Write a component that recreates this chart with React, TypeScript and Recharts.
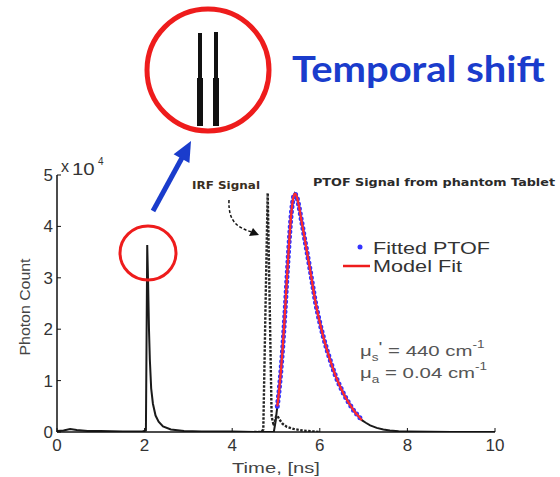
import React from 'react';
import { ComposedChart, Line, XAxis, YAxis } from 'recharts';

// values in units of 10^4 photon counts, time in ns
const xTicks = [0, 2, 4, 6, 8, 10];
const yTicks = [0, 1, 2, 3, 4, 5];

const measuredSignal: [number, number][] = [
  [0, 0.02], [0.15, 0.03], [0.3, 0.06], [0.45, 0.04], [0.7, 0.02], [1.0, 0.02], [1.5, 0.01],
  [1.95, 0.01], [2.03, 0.03], [2.06, 3.64], [2.08, 2.9], [2.1, 2.0], [2.12, 1.4], [2.15, 0.85],
  [2.19, 0.55], [2.25, 0.32], [2.32, 0.2], [2.42, 0.11], [2.6, 0.05], [2.9, 0.02], [3.3, 0.01],
  [4.0, 0.01], [4.5, 0.0], [4.95, 0.0], [4.99, 0.2], [5.03, 0.5], [5.07, 0.8], [5.11, 1.17],
  [5.15, 1.6], [5.19, 2.12], [5.23, 2.7], [5.27, 3.28], [5.31, 3.82], [5.35, 4.26], [5.39, 4.54],
  [5.43, 4.64], [5.47, 4.59], [5.52, 4.41], [5.58, 4.12], [5.64, 3.84], [5.7, 3.54], [5.76, 3.25],
  [5.82, 2.94], [5.88, 2.63], [5.94, 2.36], [6.0, 2.13], [6.09, 1.82], [6.18, 1.55], [6.27, 1.31],
  [6.36, 1.09], [6.45, 0.91], [6.54, 0.75], [6.63, 0.61], [6.72, 0.49], [6.81, 0.38], [6.9, 0.29],
  [6.96, 0.23], [7.05, 0.18], [7.15, 0.13], [7.3, 0.08], [7.45, 0.05], [7.6, 0.03], [7.8, 0.015],
  [8.0, 0.01], [9.0, 0.0], [10.0, 0.0],
];

const irfSignal: [number, number][] = [
  [4.5, 0.0], [4.66, 0.0], [4.71, 0.05], [4.76, 2.4], [4.81, 4.65], [4.86, 2.3], [4.9, 0.3],
  [4.95, 0.12], [5.0, 0.3], [5.03, 0.32], [5.08, 0.24], [5.15, 0.16], [5.25, 0.1], [5.4, 0.06],
  [5.6, 0.03], [5.8, 0.015], [6.0, 0.0],
];

const fittedPtof: [number, number][] = [
  [5.03, 0.5], [5.05, 0.64], [5.07, 0.8], [5.09, 0.98], [5.11, 1.17], [5.13, 1.38], [5.15, 1.6],
  [5.17, 1.85], [5.19, 2.12], [5.21, 2.4], [5.23, 2.7], [5.25, 3.0], [5.27, 3.28], [5.29, 3.56],
  [5.31, 3.82], [5.33, 4.06], [5.35, 4.26], [5.37, 4.42], [5.39, 4.54], [5.41, 4.61], [5.43, 4.64],
  [5.46, 4.61], [5.49, 4.53], [5.52, 4.41], [5.55, 4.27], [5.58, 4.12], [5.61, 3.98], [5.64, 3.83],
  [5.67, 3.68], [5.7, 3.54], [5.73, 3.39], [5.76, 3.25], [5.79, 3.1], [5.82, 2.94], [5.85, 2.79],
  [5.88, 2.63], [5.91, 2.48], [5.94, 2.36], [5.97, 2.24], [6.0, 2.13], [6.03, 2.02], [6.06, 1.92],
  [6.09, 1.82], [6.12, 1.73], [6.15, 1.64], [6.18, 1.55], [6.21, 1.47], [6.24, 1.39], [6.27, 1.31],
  [6.3, 1.23], [6.33, 1.16], [6.36, 1.09], [6.39, 1.03], [6.42, 0.97], [6.45, 0.91], [6.48, 0.86],
  [6.51, 0.8], [6.54, 0.75], [6.57, 0.7], [6.6, 0.66], [6.63, 0.61], [6.66, 0.57], [6.69, 0.53],
  [6.72, 0.49], [6.75, 0.45], [6.78, 0.41], [6.81, 0.38], [6.84, 0.35], [6.87, 0.32], [6.9, 0.29],
  [6.93, 0.26], [6.96, 0.23],
];

const modelFit: [number, number][] = [
  [5.03, 0.5], [5.07, 0.8], [5.11, 1.17], [5.15, 1.6], [5.19, 2.12], [5.23, 2.7], [5.27, 3.28],
  [5.31, 3.82], [5.35, 4.26], [5.39, 4.54], [5.43, 4.64], [5.47, 4.59], [5.52, 4.41], [5.58, 4.12],
  [5.64, 3.84], [5.7, 3.54], [5.76, 3.25], [5.82, 2.94], [5.88, 2.63], [5.94, 2.36], [6.0, 2.13],
  [6.09, 1.82], [6.18, 1.55], [6.27, 1.31], [6.36, 1.09], [6.45, 0.91], [6.54, 0.75], [6.63, 0.61],
  [6.72, 0.49], [6.81, 0.38], [6.9, 0.29], [6.96, 0.23],
];

const toRows = (arr: [number, number][]) => arr.map(([t, v]) => ({ t, v }));

const FONT = '"Liberation Sans", Arial, sans-serif';
const RED = '#ee1c1c';
const BLUE = '#1a3ccc';

function Overlay() {
  const tip = [191, 141];
  return (
    <svg width={560} height={477} style={{ position: 'absolute', left: 0, top: 0, pointerEvents: 'none' }}>
      {/* zoomed inset */}
      <circle cx={208} cy={70} r={61} fill="none" stroke={RED} strokeWidth={5} />
      <rect x={198} y={33} width={4} height={48} fill="#111" />
      <rect x={197} y={78} width={6} height={48} fill="#111" />
      <rect x={214} y={32} width={4} height={50} fill="#111" />
      <rect x={213} y={78} width={6} height={48} fill="#111" />
      <g transform="translate(292,82) scale(1.08,1)">
        <text x={0} y={0} fontFamily="Lato, 'Open Sans', sans-serif" fontWeight={700} fontSize={37} fill={BLUE}>Temporal shift</text>
      </g>
      {/* blue arrow */}
      <line x1={153} y1={211} x2={183} y2={156} stroke={BLUE} strokeWidth={5} />
      <polygon points={`${tip[0]},${tip[1]} 173.6,154.3 189.4,162.9`} fill={BLUE} />
      {/* small red circle */}
      <ellipse cx={148} cy={253} rx={28} ry={27} fill="none" stroke={RED} strokeWidth={3} />
      {/* x 10^4 */}
      <text x={61} y={172} fontFamily={FONT} fontSize={16} fill="#333">x</text>
      <g transform="translate(72,175) scale(1.2,1)">
        <text x={0} y={0} fontFamily={FONT} fontSize={17} fill="#333">10</text>
      </g>
      <text x={98} y={165} fontFamily={FONT} fontSize={10} fill="#333">4</text>
      {/* IRF label and arrow */}
      <g transform="translate(192,189)">
        <text x={0} y={0} fontFamily="'DejaVu Sans', sans-serif" fontWeight={700} fontSize={10} fill="#3a2e22" textLength={68} lengthAdjust="spacingAndGlyphs">IRF Signal</text>
      </g>
      <path d="M229,200 C228,222 238,228 252,232" fill="none" stroke="#111" strokeWidth={1.5} strokeDasharray="3 2" />
      <polygon points="259,235 249,236 253,228" fill="#111" />
      <text x={313} y={186} fontFamily="'DejaVu Sans', sans-serif" fontWeight={700} fontSize={10.5} fill="#2a2a2a" textLength={242} lengthAdjust="spacingAndGlyphs">PTOF Signal from phantom Tablet</text>
      {/* legend */}
      <circle cx={360} cy={247} r={2.5} fill="#3333ff" />
      <text x={373} y={254} fontFamily={FONT} fontSize={16} fill="#333" textLength={117} lengthAdjust="spacingAndGlyphs">Fitted PTOF</text>
      <line x1={343} y1={266} x2={370} y2={266} stroke={RED} strokeWidth={2.5} />
      <text x={373} y={272} fontFamily={FONT} fontSize={16} fill="#333" textLength={89} lengthAdjust="spacingAndGlyphs">Model Fit</text>
      {/* optical properties */}
      <g transform="translate(360,356) scale(1.36,1)" fontFamily={FONT} fill="#555">
        <text x={0} y={0} fontSize={15}>μ<tspan fontSize={10} dy={5}>s</tspan><tspan fontSize={15} dy={-9}>'</tspan><tspan dy={4} fontSize={15}>  = 440 cm</tspan><tspan fontSize={10} dy={-8}>-1</tspan></text>
      </g>
      <g transform="translate(360,378) scale(1.36,1)" fontFamily={FONT} fill="#555">
        <text x={0} y={0} fontSize={15}>μ<tspan fontSize={10} dy={5}>a</tspan><tspan dy={-5} fontSize={15}> = 0.04 cm</tspan><tspan fontSize={10} dy={-8}>-1</tspan></text>
      </g>
      {/* axis titles */}
      <text x={0} y={0} transform="translate(30,307) rotate(-90)" textAnchor="middle" fontFamily={FONT} fontSize={15} fill="#444" textLength={97} lengthAdjust="spacingAndGlyphs">Photon Count</text>
      <text x={276} y={473} textAnchor="middle" fontFamily={FONT} fontSize={15} fill="#444" textLength={88} lengthAdjust="spacingAndGlyphs">Time, [ns]</text>
    </svg>
  );
}

export default function App() {
  const axisTick = { fill: '#333', fontSize: 17, fontFamily: FONT };
  return (
    <div style={{ position: 'absolute', left: 0, top: 0, width: 560, height: 477, background: '#fff' }}>
      <ComposedChart width={560} height={477} margin={{ top: 175, right: 65, bottom: 0, left: 0 }}>
        <XAxis
          type="number"
          dataKey="t"
          domain={[0, 10]}
          ticks={xTicks}
          height={45}
          allowDataOverflow
          axisLine={{ stroke: '#111', strokeWidth: 1.5 }}
          tickLine={{ stroke: '#111' }}
          tickSize={-4}
          tickMargin={11}
          tick={axisTick}
        />
        <YAxis
          type="number"
          domain={[0, 5]}
          ticks={yTicks}
          width={57}
          allowDataOverflow
          axisLine={{ stroke: '#111', strokeWidth: 1.5 }}
          tickLine={{ stroke: '#111' }}
          tickSize={-4}
          tickMargin={8}
          tick={axisTick}
        />
        <Line data={toRows(measuredSignal)} dataKey="v" type="linear" stroke="#1a1a1a" strokeWidth={2} dot={false} isAnimationActive={false} />
        <Line data={toRows(irfSignal)} dataKey="v" type="linear" stroke="#222" strokeWidth={2.4} strokeDasharray="2.5 1.5" dot={false} isAnimationActive={false} />
        <Line data={toRows(fittedPtof)} dataKey="v" type="linear" stroke="#3333ff" strokeWidth={5} strokeLinecap="round" strokeDasharray="0 5" dot={false} activeDot={false} isAnimationActive={false} />
        <Line data={toRows(modelFit)} dataKey="v" type="monotone" stroke="#ff2a2a" strokeWidth={2.2} dot={false} isAnimationActive={false} />
      </ComposedChart>
      <Overlay />
    </div>
  );
}
